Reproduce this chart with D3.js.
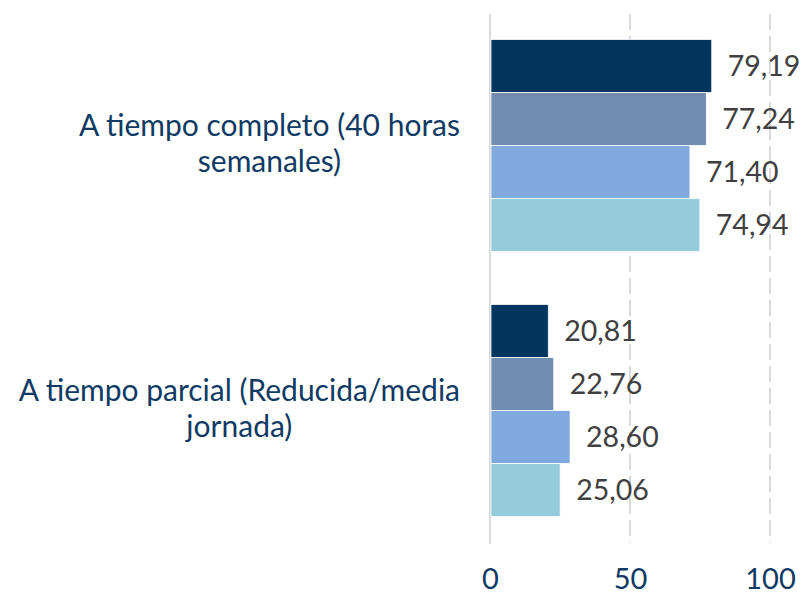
<!DOCTYPE html>
<html>
<head>
<meta charset="utf-8">
<script src="https://cdn.jsdelivr.net/npm/d3@7"></script>
<style>
  html, body { margin: 0; padding: 0; background: #ffffff; }
  svg { display: block; }
</style>
</head>
<body>
<svg id="chart" width="805" height="596"></svg>
<script>
// Working-time categories, each wrapped onto two lines
const categories = ["completo", "parcial"];
const categoryLines = [
  ["A tiempo completo (40 horas", "semanales)"],
  ["A tiempo parcial (Reducida/media", "jornada)"]
];
// Four series per category (top to bottom within a group)
const seriesKeys = ["s1", "s2", "s3", "s4"];
const seriesColors = ["#03365f", "#728db1", "#80aade", "#94ccdc"];
const seriesValues = [
  [79.19, 20.81],
  [77.24, 22.76],
  [71.40, 28.60],
  [74.94, 25.06]
];
const tickValues = [0, 50, 100];

const svg = d3.select("#chart");
const font = "Lato, 'Open Sans', sans-serif";

const x = d3.scaleLinear().domain([0, 100]).range([490, 770]);
const y = d3.scaleBand().domain(categories).range([13, 543])
  .paddingInner(0.2).paddingOuter(0.1);
const ySeries = d3.scaleBand().domain(seriesKeys).range([0, y.bandwidth()]);

const fmt = v => v.toFixed(2).replace(".", ",");

// Vertical gridlines (dashed), then the solid zero line
svg.append("g").selectAll("line")
  .data(tickValues.filter(t => t > 0))
  .join("line")
  .attr("x1", d => x(d)).attr("x2", d => x(d))
  .attr("y1", 14).attr("y2", 543)
  .attr("stroke", "#d9d9d9").attr("stroke-width", 2)
  .attr("stroke-dasharray", "16,6");

svg.append("line")
  .attr("x1", x(0)).attr("x2", x(0))
  .attr("y1", 14).attr("y2", 544)
  .attr("stroke", "#d9d9d9").attr("stroke-width", 2);

// Bars
const groups = svg.append("g").selectAll("g")
  .data(categories)
  .join("g")
  .attr("transform", d => `translate(0,${y(d)})`);

groups.each(function(cat, ci) {
  const g = d3.select(this);
  const rows = seriesKeys.map((k, si) => ({ key: k, value: seriesValues[si][ci], color: seriesColors[si] }));
  g.selectAll("rect")
    .data(rows)
    .join("rect")
    .attr("x", x(0) + 1)
    .attr("y", d => ySeries(d.key))
    .attr("width", d => x(d.value) - x(0) - 1)
    .attr("height", ySeries.bandwidth())
    .attr("fill", d => d.color)
    .attr("stroke", "#ffffff")
    .attr("stroke-width", 0.75);

  g.selectAll("text")
    .data(rows)
    .join("text")
    .attr("x", d => x(d.value) + 16)
    .attr("y", d => ySeries(d.key) + ySeries.bandwidth() / 2)
    .attr("dy", "0.36em")
    .attr("font-family", font)
    .attr("font-size", 28.5)
    .attr("fill", "#404040")
    .text(d => fmt(d.value));
});

// Category labels: lines centred on each other, block right-aligned
const labelRight = 460;
categories.forEach((cat, ci) => {
  const cy = y(cat) + y.bandwidth() / 2;
  const t = svg.append("text")
    .attr("font-family", font)
    .attr("font-size", 30)
    .attr("fill", "#0e3a64")
    .attr("text-anchor", "middle");
  const spans = t.selectAll("tspan")
    .data(categoryLines[ci])
    .join("tspan")
    .attr("y", (d, i) => cy - 10 + i * 36)
    .text(d => d);
  let maxW = 0;
  spans.each(function() { maxW = Math.max(maxW, this.getComputedTextLength()); });
  spans.attr("x", labelRight - maxW / 2);
});

// Bottom axis tick labels
const axis = d3.axisBottom(x).tickValues(tickValues).tickSize(0).tickPadding(0);
const axisG = svg.append("g").attr("transform", "translate(0,568)").call(axis);
axisG.select(".domain").remove();
axisG.selectAll("text")
  .attr("font-family", font)
  .attr("font-size", 29)
  .attr("fill", "#0e3a64")
  .attr("dy", "0.71em");
</script>
</body>
</html>
